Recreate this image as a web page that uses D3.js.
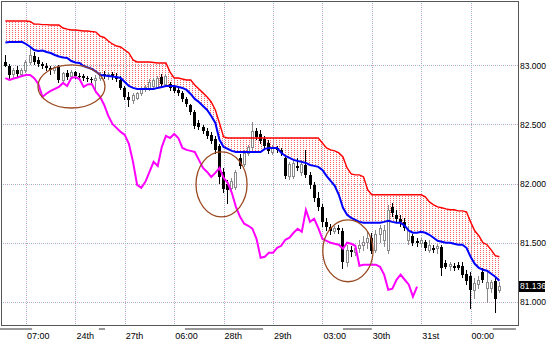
<!DOCTYPE html>
<html>
<head>
<meta charset="utf-8">
<title>Ichimoku</title>
<script src="https://cdn.jsdelivr.net/npm/d3@7"></script>
<style>
body { margin: 0; background: #fff; }
svg { display: block; font-family: "Liberation Sans", Arial, sans-serif; }
</style>
</head>
<body>
<svg id="chart" width="549" height="341"></svg>
<script>
// ---- data (prices) ----
var opens = [
 83.028,82.994,82.926,82.960,82.926,82.960,83.028,83.079,83.045,83.011,
 82.994,82.977,82.960,82.986,82.876,82.935,82.909,82.943,82.909,82.909,
 82.892,82.884,82.876,82.892,82.926,82.909,82.926,82.901,82.876,82.809,
 82.733,82.707,82.724,82.767,82.800,82.809,82.825,82.817,82.901,82.842,
 82.842,82.817,82.792,82.767,82.716,82.665,82.606,82.513,82.479,82.446,
 82.412,82.378,82.319,82.099,81.998,81.965,81.973,82.218,82.167,82.260,
 82.311,82.446,82.420,82.378,82.344,82.268,82.302,82.285,82.217,82.066,
 82.066,82.150,82.099,82.158,82.074,81.990,81.880,81.804,81.677,81.636,
 81.602,81.627,81.602,81.340,81.441,81.424,81.458,81.484,81.509,81.543,
 81.441,81.576,81.526,81.441,81.804,81.737,81.703,81.677,81.526,81.560,
 81.517,81.501,81.509,81.441,81.458,81.458,81.467,81.332,81.306,81.306,
 81.315,81.306,81.239,81.222,81.104,81.155,81.256,81.121,81.121,81.180,
 81.104];
var highs = [
 83.087,83.011,82.977,82.994,82.977,83.045,83.146,83.112,83.070,83.028,
 83.020,82.994,82.994,83.003,82.943,82.960,82.960,82.952,82.935,82.926,
 82.909,82.901,82.918,82.943,82.952,82.943,82.943,82.935,82.909,82.825,
 82.775,82.767,82.775,82.817,82.834,82.884,82.892,82.909,82.926,82.926,
 82.859,82.834,82.817,82.784,82.733,82.673,82.623,82.538,82.496,82.471,
 82.437,82.403,82.336,82.133,82.032,82.049,82.116,82.251,82.285,82.327,
 82.521,82.471,82.454,82.403,82.370,82.328,82.319,82.302,82.243,82.184,
 82.201,82.217,82.201,82.285,82.099,82.015,81.931,81.829,81.711,81.661,
 81.644,81.653,81.627,81.484,81.475,81.484,81.526,81.560,81.593,81.585,
 81.610,81.653,81.653,81.821,81.838,81.779,81.737,81.711,81.644,81.576,
 81.543,81.543,81.526,81.526,81.484,81.492,81.484,81.357,81.340,81.332,
 81.340,81.340,81.273,81.256,81.205,81.222,81.290,81.256,81.188,81.222,
 81.171];
var lows = [
 82.994,82.892,82.901,82.909,82.918,82.943,83.011,83.011,82.994,82.977,
 82.960,82.926,82.935,82.859,82.867,82.884,82.901,82.892,82.884,82.876,
 82.867,82.859,82.775,82.876,82.892,82.884,82.884,82.867,82.800,82.716,
 82.656,82.682,82.716,82.750,82.784,82.792,82.809,82.809,82.825,82.825,
 82.792,82.775,82.750,82.699,82.656,82.589,82.471,82.462,82.429,82.386,
 82.344,82.260,82.007,81.931,81.838,81.931,81.956,82.133,82.150,82.243,
 82.294,82.378,82.344,82.302,82.260,82.251,82.268,82.243,82.049,82.040,
 82.049,82.116,82.074,82.057,81.964,81.855,81.779,81.644,81.610,81.576,
 81.585,81.585,81.290,81.306,81.391,81.399,81.424,81.441,81.458,81.416,
 81.424,81.509,81.475,81.416,81.728,81.677,81.644,81.610,81.492,81.484,
 81.475,81.475,81.441,81.424,81.424,81.416,81.231,81.289,81.273,81.273,
 81.281,81.214,81.155,80.951,81.036,81.121,81.171,81.002,81.087,80.918,
 81.087];
var closes = [
 82.994,82.918,82.960,82.926,82.960,83.028,83.087,83.028,83.011,82.994,
 82.977,82.960,82.986,82.876,82.935,82.901,82.943,82.909,82.901,82.892,
 82.884,82.876,82.892,82.926,82.909,82.926,82.901,82.884,82.809,82.733,
 82.707,82.750,82.767,82.800,82.817,82.859,82.876,82.892,82.842,82.909,
 82.809,82.784,82.767,82.716,82.673,82.606,82.488,82.479,82.446,82.403,
 82.361,82.285,82.057,81.956,81.948,82.024,82.099,82.150,82.260,82.310,
 82.446,82.395,82.361,82.319,82.277,82.311,82.285,82.260,82.066,82.167,
 82.175,82.133,82.167,82.074,81.990,81.880,81.804,81.677,81.636,81.602,
 81.627,81.610,81.340,81.441,81.424,81.458,81.484,81.509,81.543,81.433,
 81.576,81.627,81.610,81.779,81.754,81.703,81.677,81.627,81.610,81.501,
 81.501,81.526,81.458,81.484,81.441,81.475,81.289,81.298,81.323,81.289,
 81.289,81.231,81.180,81.104,81.163,81.188,81.188,81.171,81.171,81.028,
 81.136];

// upper cloud edge (red)
var spanB = [
 83.374,83.374,83.374,83.374,83.374,83.374,83.370,83.348,83.348,83.344,
 83.344,83.340,83.340,83.340,83.315,83.306,83.298,83.298,83.294,83.290,
 83.290,83.285,83.281,83.247,83.235,83.205,83.180,83.163,83.155,83.129,
 83.104,83.045,83.028,83.028,83.028,83.028,83.024,83.020,83.020,83.020,
 82.943,82.893,82.893,82.884,82.876,82.876,82.834,82.800,82.767,82.733,
 82.690,82.623,82.513,82.395,82.386,82.386,82.386,82.386,82.386,82.386,
 82.386,82.386,82.386,82.386,82.386,82.386,82.386,82.386,82.386,82.386,
 82.386,82.386,82.386,82.386,82.386,82.386,82.386,82.344,82.302,82.285,
 82.277,82.260,82.226,82.133,82.083,82.074,82.074,82.057,81.948,81.906,
 81.906,81.906,81.906,81.906,81.906,81.906,81.906,81.906,81.906,81.906,
 81.906,81.906,81.889,81.846,81.821,81.804,81.796,81.787,81.779,81.779,
 81.770,81.770,81.762,81.677,81.602,81.560,81.501,81.484,81.441,81.391,
 81.382];
// lower cloud edge (blue)
var spanA = [
 83.192,83.196,83.196,83.196,83.199,83.180,83.157,83.129,83.121,83.125,
 83.112,83.104,83.087,83.074,83.066,83.062,83.036,83.024,83.020,82.994,
 82.981,82.969,82.947,82.918,82.914,82.910,82.905,82.901,82.893,82.859,
 82.825,82.809,82.800,82.800,82.800,82.800,82.800,82.809,82.817,82.825,
 82.825,82.825,82.817,82.809,82.792,82.758,82.716,82.690,82.656,82.623,
 82.572,82.513,82.370,82.310,82.294,82.277,82.268,82.268,82.268,82.268,
 82.268,82.268,82.268,82.294,82.302,82.302,82.302,82.260,82.234,82.218,
 82.201,82.192,82.184,82.175,82.158,82.150,82.142,82.116,82.066,82.024,
 81.981,81.906,81.796,81.737,81.711,81.694,81.677,81.669,81.669,81.669,
 81.669,81.669,81.677,81.686,81.677,81.669,81.669,81.644,81.602,81.585,
 81.585,81.593,81.585,81.568,81.543,81.517,81.509,81.501,81.501,81.492,
 81.484,81.484,81.458,81.382,81.323,81.289,81.273,81.264,81.239,81.214,
 81.180];
// lagging line (magenta)
var lagging = [
 82.892,82.876,82.888,82.897,82.909,82.918,82.918,82.892,82.842,82.733,
 82.762,82.784,82.800,82.817,82.851,82.825,82.892,82.901,82.884,82.817,
 82.838,82.842,82.775,82.733,82.665,82.572,82.505,82.471,82.437,82.412,
 82.336,82.184,81.990,81.964,82.015,82.099,82.184,82.150,82.311,82.403,
 82.386,82.420,82.386,82.302,82.285,82.277,82.268,82.201,82.133,82.099,
 82.057,82.091,82.133,82.049,82.007,81.923,81.804,81.720,81.661,81.644,
 81.619,81.534,81.374,81.382,81.416,81.416,81.458,81.475,81.526,81.543,
 81.585,81.619,81.593,81.779,81.677,81.703,81.627,81.534,81.517,81.501,
 81.492,81.484,81.450,81.501,81.492,81.475,81.306,81.315,81.315,81.315,
 81.315,81.298,81.231,81.104,81.112,81.188,81.231,81.188,81.146,81.045,
 81.129];

var priceTicks = [83.0, 82.5, 82.0, 81.5, 81.0];
var timeBars = [5, 17, 29, 41, 53, 65, 77, 89, 101, 113];
var timeLabels = ["07:00", "24th", "27th", "06:00", "28th", "29th", "03:00", "30th", "31st", "00:00"];
// circled areas: [first bar, last bar, top price, bottom price]
var circles = [[7.9, 24.2, 83.003, 82.639], [46.3, 58.7, 82.268, 81.720], [77.1, 89.3, 81.694, 81.171]];
// grey marks under the time axis, in bars
var sessionMarks = [[-1.3, 6.5], [22.7, 24.2], [43.6, 62.6], [82, 89], [118.4, 124]];

// ---- scales ----
var pL = 1, pT = 1, pR = 518, pB = 325;
var x = d3.scaleLinear().domain([0, 120]).range([5.4, 499.4]);
var y = d3.scaleLinear().domain([81, 83]).range([302, 65.3]);

var svg = d3.select("#chart");
var idx = d3.range(closes.length);

// pattern for the cloud
var defs = svg.append("defs");
var pat = defs.append("pattern").attr("id", "dots")
  .attr("patternUnits", "userSpaceOnUse").attr("width", 3).attr("height", 2);
pat.append("rect").attr("width", 1).attr("height", 1).attr("fill", "#ff6464");

defs.append("clipPath").attr("id", "clip").append("rect")
  .attr("x", pL).attr("y", pT).attr("width", pR - pL).attr("height", pB - pT);

// ---- grid ----
var grid = svg.append("g").attr("shape-rendering", "crispEdges");
[["#e4a0dc", 0], ["#8cb8b4", 2]].forEach(function(s) {
  grid.selectAll(null).data(priceTicks).enter().append("line")
    .attr("x1", pL).attr("x2", pR)
    .attr("y1", function(d) { return Math.round(y(d)) + 0.5; })
    .attr("y2", function(d) { return Math.round(y(d)) + 0.5; })
    .attr("stroke", s[0]).attr("stroke-dasharray", "1 3").attr("stroke-dashoffset", s[1]);
  grid.selectAll(null).data(timeBars).enter().append("line")
    .attr("y1", pT).attr("y2", pB)
    .attr("x1", function(d) { return Math.round(x(d)) + 0.5; })
    .attr("x2", function(d) { return Math.round(x(d)) + 0.5; })
    .attr("stroke", s[0]).attr("stroke-dasharray", "1 3").attr("stroke-dashoffset", s[1]);
});

var plot = svg.append("g").attr("clip-path", "url(#clip)");

// ---- cloud ----
plot.append("path").datum(idx)
  .attr("d", d3.area().x(function(i) { return x(i); })
    .y0(function(i) { return y(spanA[i]); })
    .y1(function(i) { return y(spanB[i]); }))
  .attr("fill", "url(#dots)");

// ---- candles ----
var bars = idx.map(function(i) { return {i: i, o: opens[i], h: highs[i], l: lows[i], c: closes[i]}; });
var cg = plot.append("g").attr("shape-rendering", "crispEdges");
cg.selectAll(".wick").data(bars).enter().append("line")
  .attr("x1", function(d) { return Math.floor(x(d.i)) + 0.5; })
  .attr("x2", function(d) { return Math.floor(x(d.i)) + 0.5; })
  .attr("y1", function(d) { return Math.round(y(d.h)); })
  .attr("y2", function(d) { return Math.round(y(d.l)) + 1; })
  .attr("stroke", function(d) { return d.c >= d.o ? "#8a8a8a" : "#000"; });
cg.selectAll(".body").data(bars).enter().append("rect")
  .attr("x", function(d) { return d.c >= d.o ? Math.floor(x(d.i)) - 0.5 : Math.floor(x(d.i)) - 1; })
  .attr("width", function(d) { return d.c >= d.o ? 2 : 3; })
  .attr("y", function(d) { return Math.round(y(Math.max(d.o, d.c))) + (d.c >= d.o ? 0.5 : 0); })
  .attr("height", function(d) { return Math.max(1, Math.round(Math.abs(y(d.o) - y(d.c)))); })
  .attr("fill", function(d) { return d.c >= d.o ? "#fff" : "#000"; })
  .attr("stroke", function(d) { return d.c >= d.o ? "#8a8a8a" : "none"; });

// ---- lines ----
function line(arr) {
  return d3.line().x(function(i) { return x(i); }).y(function(i) { return y(arr[i]); });
}
plot.append("path").datum(idx).attr("d", line(spanB))
  .attr("fill", "none").attr("stroke", "#ff0000").attr("stroke-width", 1.4);
plot.append("path").datum(idx).attr("d", line(spanA))
  .attr("fill", "none").attr("stroke", "#0000ff").attr("stroke-width", 2);
plot.append("path").datum(d3.range(lagging.length)).attr("d", line(lagging))
  .attr("fill", "none").attr("stroke", "#ff00ff").attr("stroke-width", 2);

// ---- circled areas ----
plot.selectAll(".mark").data(circles).enter().append("ellipse")
  .attr("cx", function(d) { return (x(d[0]) + x(d[1])) / 2; })
  .attr("cy", function(d) { return (y(d[2]) + y(d[3])) / 2; })
  .attr("rx", function(d) { return (x(d[1]) - x(d[0])) / 2; })
  .attr("ry", function(d) { return (y(d[3]) - y(d[2])) / 2; })
  .attr("fill", "none").attr("stroke", "#9a4a22").attr("stroke-width", 1.3);

// ---- frame ----
svg.append("rect").attr("x", pL + 0.5).attr("y", pT + 0.5)
  .attr("width", pR - pL).attr("height", pB - pT)
  .attr("fill", "none").attr("stroke", "#555").attr("shape-rendering", "crispEdges");

// ---- axes ----
var ya = svg.append("g").attr("transform", "translate(" + (pR + 2) + ",0)")
  .call(d3.axisRight(y).tickValues(priceTicks).tickFormat(d3.format(".3f")).tickSize(0));
ya.select(".domain").remove();
ya.selectAll("text").attr("x", 0).attr("font-size", "8.5px").attr("fill", "#000")
  .attr("font-family", "Liberation Sans, Arial, sans-serif");

var xa = svg.append("g").attr("transform", "translate(0," + (pB + 5) + ")")
  .call(d3.axisBottom(x).tickValues(timeBars).tickFormat(function(d, i) { return timeLabels[i]; }).tickSize(0));
xa.select(".domain").remove();
xa.selectAll("text").attr("text-anchor", "start").attr("dx", 0.5).attr("y", 0).attr("dy", 8.5)
  .attr("font-size", "9px").attr("fill", "#000")
  .attr("font-family", "Liberation Sans, Arial, sans-serif");

svg.append("g").selectAll("rect").data(sessionMarks).enter().append("rect")
  .attr("x", function(d) { return Math.max(0, x(d[0])); })
  .attr("width", function(d) { return Math.min(pR, x(d[1])) - Math.max(0, x(d[0])); })
  .attr("y", pB + 3).attr("height", 2).attr("fill", "#999");

// current price tag
var last = closes[closes.length - 1];
svg.append("rect").attr("x", pR + 1).attr("y", Math.round(y(last)) - 5)
  .attr("width", 26).attr("height", 11).attr("fill", "#000");
svg.append("text").attr("x", pR + 2).attr("y", y(last)).attr("dy", "0.32em")
  .attr("font-size", "8.5px").attr("fill", "#fff").text(d3.format(".3f")(last));
</script>
</body>
</html>
